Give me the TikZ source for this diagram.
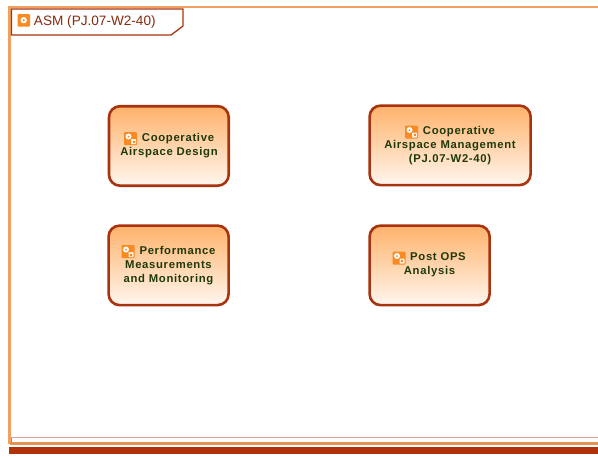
\documentclass[tikz,border=0pt]{standalone}
\usepackage{fontspec}
\setmainfont{Liberation Sans}
\newfontfamily\lblfont[LetterSpace=6]{Liberation Sans}
\definecolor{framecol}{HTML}{F0A060}
\definecolor{edgecol}{HTML}{A8340F}
\definecolor{topcol}{HTML}{FFB26B}
\definecolor{botcol}{HTML}{FFF6EE}
\definecolor{txtcol}{HTML}{1E3A0C}
\definecolor{iconcol}{HTML}{F98A22}
\definecolor{bandcol}{HTML}{B03208}
\tikzset{
  x=1pt,y=-1pt,
  activity/.style={draw=edgecol,line width=2.6pt,rounded corners=11pt,top color=topcol,bottom color=botcol,shading angle=0,minimum height=79.5pt,inner sep=0pt,outer sep=0pt,align=center,anchor=north west},
  lbl/.style={font=\lblfont\bfseries\fontsize{11.3}{14}\selectfont,text=txtcol,align=center,inner sep=0pt},
  iconbox/.pic={
    \fill[iconcol,rounded corners=1pt] (-6.5,-6.5) rectangle (6.5,6.5);
    \fill[white] (-2,-2) circle (3pt);
    \fill[iconcol] (-2,-2) circle (1pt);
    \fill[white!85!iconcol,rounded corners=.5pt] (0.5,0.5) rectangle (5.5,5.5);
    \fill[iconcol] (2,2) rectangle (4,4);
  }
}
\begin{document}
\begin{tikzpicture}
\useasboundingbox (0,0) rectangle (598,456);
% frame
\fill[white] (0,0) rectangle (598,456);
\draw[framecol,line width=2.4pt] (598,7) -- (9.5,7) -- (9.5,443) -- (598,443);
\draw[edgecol!45!white,line width=1pt] (11,437.5) -- (598,437.5);
\draw[edgecol!60!white,line width=1pt] (11,443) -- (11,437.5);
\draw[framecol!85!edgecol,line width=2.4pt] (10,443.5) -- (598,443.5);
\fill[bandcol] (9,447) rectangle (598,454);
% tab
\coordinate (t1) at (11.5,9);
\coordinate (t2) at (183,9);
\coordinate (t3) at (183,26);
\coordinate (t4) at (171,35);
\coordinate (t5) at (11.5,35);
\draw[edgecol,line width=1.3pt,fill=white] (t1) -- (t2) -- (t3) -- (t4) -- (t5) -- cycle;
\fill[iconcol,rounded corners=1pt] (17.5,14) rectangle (30,26.5);
\fill[white] (23.7,20.2) circle (3.2pt);
\fill[iconcol] (23.7,20.2) circle (1.1pt);
\node[anchor=west,inner sep=0pt,text=edgecol!80!black,font=\fontsize{13.6}{15}\selectfont] (title) at (33.8,22) {ASM (PJ.07-W2-40)};
% activities
\node[activity,minimum width=119.7pt] (a) at (109,106.2) {};
\node[activity,minimum width=161pt] (b) at (369.6,105.6) {};
\node[activity,minimum width=120pt] (c) at (108.6,225.6) {};
\node[activity,minimum width=120pt] (d) at (369.6,225.6) {};
\node[lbl] (al) at (169,145.5) {\hspace*{18pt}Cooperative\\Airspace Design};
\node[lbl] (bl) at (450,145.5) {\hspace*{18pt}Cooperative\\Airspace Management\\(PJ.07-W2-40)};
\node[lbl] (cl) at (168.5,265.5) {\hspace*{18pt}Performance\\Measurements\\and Monitoring};
\node[lbl] (dl) at (429.5,265) {\hspace*{17pt}Post OPS\\Analysis};
\pic at (130.5,138.5) {iconbox};
\pic at (411.5,132) {iconbox};
\pic at (128,251.5) {iconbox};
\pic at (399,258) {iconbox};
\end{tikzpicture}
\end{document}
